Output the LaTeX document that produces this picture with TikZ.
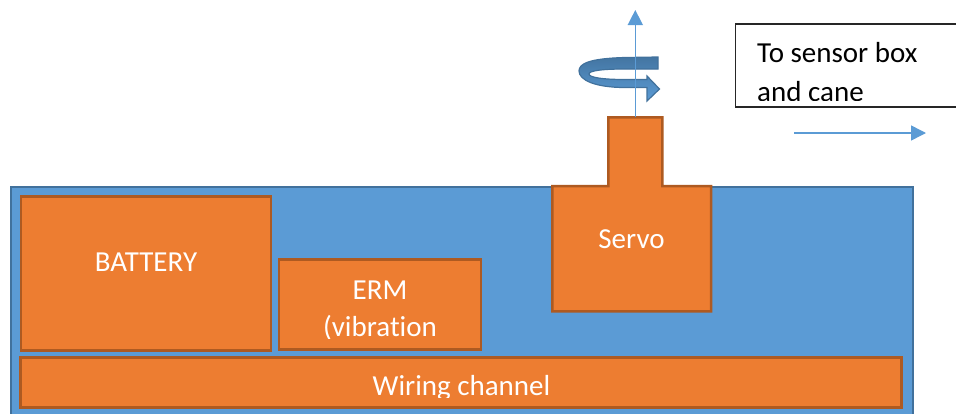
\documentclass[tikz,border=0pt]{standalone}
\usepackage{fontspec}
\setmainfont{Carlito}[Ligatures=NoCommon]
\usetikzlibrary{arrows.meta}
\definecolor{caseblue}{HTML}{5B9BD5}
\definecolor{caseline}{HTML}{41719C}
\definecolor{partorange}{HTML}{ED7D31}
\definecolor{partline}{HTML}{AE5A21}
\begin{document}
\begin{tikzpicture}[x=1pt, y=-1pt,
    part/.style={rectangle, fill=partorange, draw=partline, line width=2.6pt, inner sep=0pt, outer sep=0pt},
    lbl/.style={inner sep=0pt, anchor=base, text=white, align=center, font=\fontsize{29}{37}\selectfont},
    axisline/.style={caseblue, line width=1.5pt, -{Triangle[width=15pt,length=15pt]}}]
\clip (0,0) rectangle (956,413);
% housing
\node[rectangle, fill=caseblue, draw=caseline, line width=2pt, inner sep=0pt,
      minimum width=902, minimum height=260, anchor=north west] (housing) at (10,186) {};
\foreach \name/\cx/\cy/\w/\h in {battery/146/273.7/250.3/154, erm/380/304.5/201.7/89.6, wiring/461.2/382.7/881/50} {
    \node[part, minimum width=\w, minimum height=\h] (\name) at (\cx,\cy) {};
}
% servo with its shaft
\node[part, draw=none, minimum width=158.7, minimum height=125.3] (servo) at (631.7,248.7) {};
\node[part, draw=none, minimum width=54, minimum height=68.7] (shaft) at (635.3,151.7) {};
\draw[partline, line width=2.6pt] (servo.north west) -- (shaft.south west) -- (shaft.north west) -- (shaft.north east)
    -- (shaft.south east) -- (servo.north east) -- (servo.south east) -- (servo.south west) -- cycle;
% labels
\node[lbl] (battery-text) at (146,271.7) {BATTERY};
\node[lbl] (servo-text) at (631.5,248) {Servo};
\begin{scope}
    \clip (erm.north west) rectangle ([yshift=11pt]erm.south east);
    \node[lbl] (erm-text) at (380,336.3) {ERM\\(vibration};
\end{scope}
\begin{scope}
    \clip (wiring.north west) rectangle ([yshift=10.5pt]wiring.south east);
    \node[lbl] (wiring-text) at (461.5,395.7) {Wiring channel};
\end{scope}
% note box
\node[rectangle, draw=black!85, line width=1.5pt, inner sep=0pt, outer sep=0pt, minimum width=240, minimum height=83,
      anchor=north west] (note) at (735.5,24) {};
\begin{scope}
    \clip (note.north west) rectangle ([yshift=7pt]note.south east);
    \node[lbl, text=black, anchor=base west, align=left, font=\fontsize{29}{39}\selectfont] (note-text) at (757,101) {To sensor box\\and cane};
\end{scope}
% rotation arrow round the axis
\draw[top color=caseline!90!caseblue, bottom color=caseblue, draw=caseline, line width=1.2pt, line join=miter]
    (658,57) -- (625,57.5) .. controls (588,58.5) and (579,64) .. (579,71)
    .. controls (579,80) and (595,87.5) .. (625,87.5) -- (647,87.5) -- (647,101) -- (659.5,89) -- (647,76)
    -- (647,79.5) -- (625,79.5) .. controls (600,79.5) and (589,77) .. (589,74)
    .. controls (589,71) and (600,69) .. (625,69) -- (658,69) -- cycle;
% axis and cable arrows
\coordinate (axis-top) at (635.3,10);
\draw[axisline] (shaft.north) -- (axis-top);
\coordinate (cable-start) at (794,133);
\coordinate (cable-end) at (926,133);
\draw[axisline] (cable-start) -- (cable-end);
\end{tikzpicture}
\end{document}
